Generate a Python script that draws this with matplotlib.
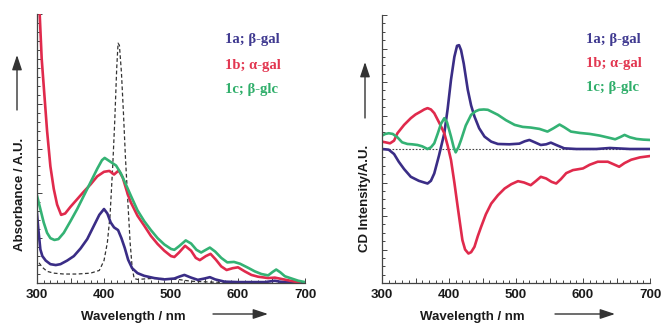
import numpy as np
import matplotlib
matplotlib.use('Agg')
import matplotlib.pyplot as plt
from matplotlib.ticker import MultipleLocator, FuncFormatter

plt.rcParams['font.family'] = ['Liberation Sans', 'DejaVu Sans']

# ---- absorbance panel (values in axis units, 0..6) ----
abs_wl_a = [300, 302, 305, 308, 313, 320, 328, 335, 345, 355, 365, 375, 385, 393, 400, 405,
            410, 415, 421, 426, 431, 436, 442, 450, 460, 475, 490, 505, 512, 520, 530, 540,
            550, 558, 566, 580, 600, 620, 640, 655, 662, 680, 700]
abs_a = [1.55, 1.2, 0.75, 0.6, 0.5, 0.42, 0.4, 0.42, 0.5, 0.6, 0.77, 0.98, 1.28, 1.52, 1.65, 1.55,
         1.35, 1.24, 1.18, 1.0, 0.78, 0.52, 0.33, 0.22, 0.16, 0.11, 0.08, 0.1, 0.14, 0.18, 0.12, 0.07,
         0.1, 0.13, 0.08, 0.03, 0.02, 0.02, 0.02, 0.05, 0.03, 0.01, 0.0]

abs_wl_b = [301, 304, 307, 311, 315, 320, 325, 330, 336, 342, 350, 360, 370, 380, 390, 400,
            408, 415, 422, 428, 435, 440, 450, 460, 470, 480, 490, 500, 505, 512, 521, 530,
            537, 543, 552, 559, 567, 575, 583, 592, 600, 610, 620, 630, 645, 655, 665, 675,
            685, 692]
abs_b = [7.0, 6.0, 5.0, 4.2, 3.4, 2.6, 2.1, 1.75, 1.52, 1.55, 1.7, 1.87, 2.04, 2.2, 2.38, 2.48,
         2.5, 2.42, 2.51, 2.35, 2.0, 1.8, 1.5, 1.28, 1.05, 0.87, 0.72, 0.6, 0.58, 0.68, 0.83, 0.72,
         0.56, 0.51, 0.6, 0.65, 0.52, 0.37, 0.29, 0.33, 0.35, 0.26, 0.18, 0.14, 0.11, 0.12, 0.09, 0.06,
         0.03, 0.01]

abs_wl_c = [300, 305, 310, 315, 320, 326, 332, 340, 350, 360, 370, 380, 390, 397, 401, 406,
            412, 418, 425, 432, 440, 450, 460, 470, 480, 490, 500, 505, 512, 522, 530, 538,
            545, 552, 558, 566, 575, 584, 594, 603, 615, 625, 635, 645, 652, 657, 663, 670,
            680, 690, 700]
abs_c = [1.95, 1.65, 1.35, 1.12, 1.0, 0.96, 0.98, 1.12, 1.38, 1.65, 1.95, 2.25, 2.55, 2.74, 2.79, 2.74,
         2.68, 2.62, 2.45, 2.22, 1.95, 1.62, 1.38, 1.18, 1.0, 0.86, 0.76, 0.74, 0.82, 0.95, 0.88, 0.74,
         0.68, 0.74, 0.79, 0.7, 0.56, 0.46, 0.47, 0.43, 0.34, 0.26, 0.2, 0.17, 0.25, 0.3, 0.24, 0.15,
         0.1, 0.05, 0.02]

abs_wl_ref = [303, 308, 315, 325, 340, 360, 380, 393, 400, 405, 409, 413, 416, 419, 421, 423,
              426, 429, 432, 436, 439, 442, 445, 450, 470, 490, 510, 530, 560, 600]
abs_ref = [0.45, 0.35, 0.26, 0.22, 0.2, 0.2, 0.22, 0.28, 0.5, 0.9, 1.5, 2.6, 3.6, 4.8, 5.35, 5.3,
           4.7, 3.8, 2.8, 1.7, 0.9, 0.35, 0.1, 0.08, 0.1, 0.1, 0.08, 0.04, 0.02, 0.01]

# ---- CD panel (values in axis units, -4..4) ----
cd_wl_a = [300, 310, 318, 325, 333, 343, 355, 363, 368, 373, 378, 385, 393, 398, 403, 408,
           412, 415, 418, 422, 428, 433, 438, 445, 453, 463, 473, 490, 505, 513, 520, 528,
           537, 545, 552, 560, 572, 590, 620, 640, 650, 670, 700]
cd_a = [0.0, -0.02, -0.15, -0.38, -0.6, -0.83, -0.95, -1.0, -1.03, -0.95, -0.73, -0.2, 0.47, 1.2, 2.07, 2.75,
        3.08, 3.1, 2.95, 2.55, 1.77, 1.3, 0.97, 0.62, 0.37, 0.22, 0.15, 0.14, 0.16, 0.23, 0.27, 0.2,
        0.12, 0.14, 0.19, 0.12, 0.02, 0.0, 0.0, 0.03, 0.02, 0.0, 0.0]

cd_wl_b = [300, 305, 312, 318, 323, 333, 343, 350, 358, 363, 368, 373, 378, 385, 393, 398,
           403, 408, 413, 417, 420, 424, 429, 433, 438, 443, 448, 455, 463, 473, 483, 493,
           503, 512, 522, 530, 537, 545, 553, 560, 567, 575, 585, 600, 610, 622, 637, 645,
           654, 662, 672, 685, 700]
cd_b = [0.22, 0.2, 0.17, 0.25, 0.47, 0.72, 0.92, 1.03, 1.12, 1.18, 1.22, 1.18, 1.07, 0.8, 0.47, 0.1,
        -0.33, -1.0, -1.73, -2.3, -2.72, -3.0, -3.12, -3.08, -2.92, -2.6, -2.32, -1.95, -1.63, -1.38, -1.18, -1.05,
        -0.96, -1.0, -1.08, -0.95, -0.83, -0.88, -0.98, -1.03, -0.9, -0.72, -0.63, -0.58, -0.47, -0.38, -0.38, -0.45,
        -0.53, -0.42, -0.32, -0.25, -0.21]

cd_wl_c = [300, 305, 310, 316, 323, 330, 338, 345, 353, 360, 368, 373, 378, 383, 388, 393,
           397, 403, 407, 410, 414, 418, 425, 433, 440, 445, 452, 458, 465, 473, 485, 498,
           510, 522, 535, 547, 556, 565, 572, 582, 595, 610, 625, 640, 648, 656, 662, 670,
           680, 690, 700]
cd_c = [0.4, 0.45, 0.47, 0.45, 0.35, 0.2, 0.15, 0.14, 0.12, 0.08, 0.0, 0.05, 0.17, 0.45, 0.75, 0.92,
        0.8, 0.37, 0.05, -0.1, 0.05, 0.27, 0.7, 1.02, 1.13, 1.17, 1.18, 1.17, 1.1, 1.02, 0.86, 0.72,
        0.66, 0.64, 0.6, 0.52, 0.62, 0.73, 0.65, 0.52, 0.48, 0.45, 0.4, 0.33, 0.29, 0.36, 0.42, 0.35,
        0.3, 0.28, 0.27]

legend_labels = ['1a; \u03b2-gal', '1b; \u03b1-gal', '1c; \u03b2-glc']
line_colors = ['#3a2d86', '#e02a4c', '#34b274']
text_colors = ['#3f3990', '#e23650', '#2fae6a']

fig = plt.figure(figsize=(6.64, 3.27), dpi=100)
W, H = 664, 327

def make_axes(left_px, top_px, right_px, bottom_px):
    ax = fig.add_axes([left_px / W, 1 - bottom_px / H, (right_px - left_px) / W, (bottom_px - top_px) / H])
    for s in ['top', 'right']:
        ax.spines[s].set_visible(False)
    for s in ['left', 'bottom']:
        ax.spines[s].set_color('#444444')
        ax.spines[s].set_linewidth(0.9)
    ax.set_xlim(300, 700)
    ax.xaxis.set_major_locator(MultipleLocator(50))
    ax.xaxis.set_minor_locator(MultipleLocator(10))
    ax.xaxis.set_major_formatter(FuncFormatter(lambda v, p: '%d' % v if v % 100 == 0 else ''))
    ax.tick_params(which='both', direction='in', color='#444444', width=0.7)
    ax.tick_params(which='major', length=3.5)
    ax.tick_params(which='minor', length=2)
    ax.tick_params(axis='x', labelsize=9.5, pad=4, labelcolor='#1a1a1a')
    for t in ax.get_xticklabels():
        t.set_fontweight('bold')
    return ax

# left panel
ax1 = make_axes(37, 14, 305, 283)
ax1.set_ylim(0, 6)
ax1.yaxis.set_major_locator(MultipleLocator(1))
ax1.yaxis.set_minor_locator(MultipleLocator(0.2))
ax1.yaxis.set_major_formatter(FuncFormatter(lambda v, p: ''))
ax1.plot(abs_wl_ref, abs_ref, color='#333333', lw=0.9, ls=(0, (3, 2)))
ax1.plot(abs_wl_a, abs_a, color=line_colors[0], lw=1.9)
ax1.plot(abs_wl_b, abs_b, color=line_colors[1], lw=1.9)
ax1.plot(abs_wl_c, abs_c, color=line_colors[2], lw=1.9)

# right panel
ax2 = make_axes(382, 15, 650, 283)
ax2.set_ylim(-4, 4)
ax2.yaxis.set_major_locator(MultipleLocator(1))
ax2.yaxis.set_minor_locator(MultipleLocator(0.25))
ax2.yaxis.set_major_formatter(FuncFormatter(lambda v, p: ''))
ax2.axhline(0, color='#444444', lw=0.8, ls=(0, (1.5, 1.5)))
ax2.plot(cd_wl_a, cd_a, color=line_colors[0], lw=1.9)
ax2.plot(cd_wl_b, cd_b, color=line_colors[1], lw=1.9)
ax2.plot(cd_wl_c, cd_c, color=line_colors[2], lw=1.9)

for ax in (ax1, ax2):
    for t in ax.get_xticklabels():
        t.set_fontweight('bold')

# legends as coloured serif text
for x0, ys in [(225, [40, 65, 89]), (586, [39, 64, 88])]:
    for lab, c, y in zip(legend_labels, text_colors, ys):
        fig.text(x0 / W, 1 - y / H, lab, color=c, fontsize=10.5, fontweight='bold',
                 family=['Liberation Serif', 'DejaVu Serif'], va='center', ha='left')

# axis titles and arrows
title_kw = dict(fontsize=9.5, fontweight='bold', va='center', ha='center', color='#1a1a1a')
fig.text(20 / W, 1 - 194 / H, 'Absorbance / A.U.', rotation=90, **title_kw)
fig.text(365 / W, 1 - 198 / H, 'CD Intensity/A.U.', rotation=90, **title_kw)
fig.text(133 / W, 1 - 317 / H, 'Wavelength / nm', **title_kw)
fig.text(472 / W, 1 - 317 / H, 'Wavelength / nm', **title_kw)

for tail, tip in [((17, H - 110), (17, H - 55)), ((365, H - 118), (365, H - 62)),
                  ((213, H - 314), (268, H - 314)), ((555, H - 314), (615, H - 314))]:
    fig.add_artist(matplotlib.patches.FancyArrowPatch(
        (tail[0] / W, tail[1] / H), (tip[0] / W, tip[1] / H), transform=fig.transFigure,
        arrowstyle='-|>,head_length=0.9,head_width=0.3', mutation_scale=10,
        color='#333333', lw=1.0, shrinkA=0, shrinkB=0))

fig.savefig('out.png', dpi=100)
